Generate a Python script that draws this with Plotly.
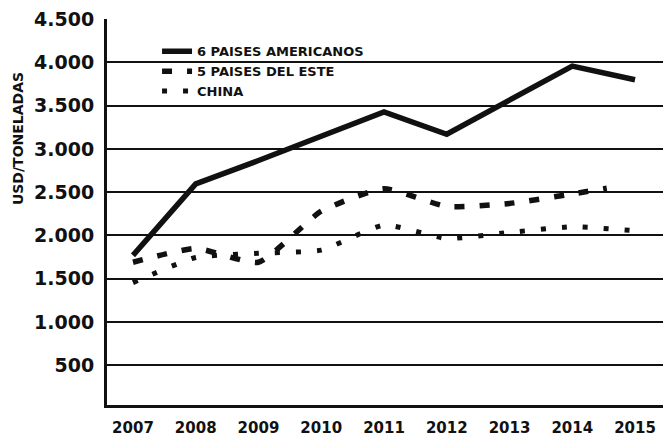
import plotly.graph_objects as go

# data
years = [2007, 2008, 2009, 2010, 2011, 2012, 2013, 2014, 2015]
year_labels = [str(y) for y in years]

americanos = [1770, 2596, 2866, 3147, 3429, 3170, 3560, 3958, 3800]

este_years = [2007, 2008, 2009, 2010, 2011, 2012, 2013, 2014, 2014.55]
este = [1690, 1850, 1690, 2280, 2540, 2335, 2370, 2480, 2545]

china = [1455, 1745, 1795, 1830, 2120, 1965, 2035, 2100, 2055]

y_ticks = [500, 1000, 1500, 2000, 2500, 3000, 3500, 4000, 4500]
y_tick_labels = ["500", "1.000", "1.500", "2.000", "2.500", "3.000", "3.500", "4.000", "4.500"]

INK = "#111111"
FONT = "DejaVu Sans"

fig = go.Figure()

fig.add_trace(go.Scatter(x=years, y=americanos, mode="lines",
                         name="6 PAISES AMERICANOS",
                         line=dict(color=INK, width=5.5)))
fig.add_trace(go.Scatter(x=este_years, y=este, mode="lines",
                         name="5 PAISES DEL ESTE",
                         line=dict(color=INK, width=5.5, dash="10px,15px",
                                   shape="spline", smoothing=0.5)))
fig.add_trace(go.Scatter(x=years, y=china, mode="lines",
                         name="CHINA",
                         line=dict(color=INK, width=5, dash="5px,16px",
                                   shape="spline", smoothing=0.5)))

fig.update_layout(
    width=663, height=437,
    margin=dict(l=107, r=0, t=19, b=22),
    paper_bgcolor="white", plot_bgcolor="white",
    font=dict(family=FONT, color=INK),
    showlegend=True,
    legend=dict(x=0.09, y=0.955, xanchor="left", yanchor="top",
                bgcolor="rgba(0,0,0,0)", borderwidth=0,
                font=dict(family=FONT, size=13, weight="bold", color=INK),
                itemwidth=30, tracegroupgap=0),
    xaxis=dict(range=[2006.586, 2015.446], tickmode="array",
               tickvals=years, ticktext=year_labels,
               showgrid=False, zeroline=False,
               showline=True, linecolor=INK, linewidth=3,
               ticks="", ticklabelstandoff=7,
               tickfont=dict(family=FONT, size=15, weight="bold", color=INK)),
    yaxis=dict(range=[40, 4502], tickmode="array",
               tickvals=y_ticks, ticktext=y_tick_labels,
               showgrid=True, gridcolor=INK, gridwidth=2, zeroline=False,
               showline=True, linecolor=INK, linewidth=3,
               ticks="", ticklabelstandoff=6,
               tickfont=dict(family=FONT, size=19, weight="bold", color=INK)),
)

fig.add_annotation(text="USD/TONELADAS", xref="paper", yref="paper",
                   x=-0.160, y=0.689, xanchor="center", yanchor="middle",
                   textangle=-90, showarrow=False,
                   font=dict(family=FONT, size=14, weight="bold", color=INK))

# drop the default page margin so the figure sits at the window's corner
fig.write_html("out.html", config={"displayModeBar": False},
               post_script="document.body.style.margin='0';")
